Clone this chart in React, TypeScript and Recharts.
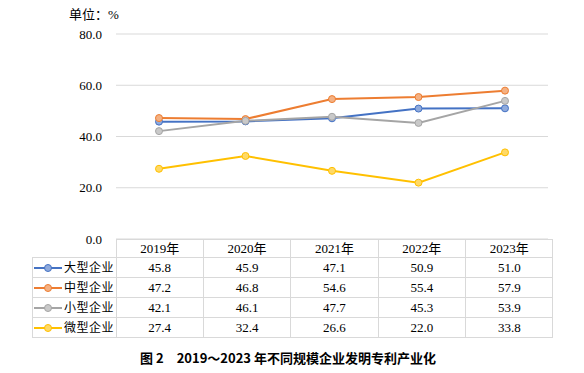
import { LineChart, Line, XAxis, YAxis, CartesianGrid } from "recharts";

const years = ["2019年", "2020年", "2021年", "2022年", "2023年"];
const large = [45.8, 45.9, 47.1, 50.9, 51.0];
const medium = [47.2, 46.8, 54.6, 55.4, 57.9];
const small = [42.1, 46.1, 47.7, 45.3, 53.9];
const micro = [27.4, 32.4, 26.6, 22.0, 33.8];
const yTicks = [0, 20, 40, 60, 80];

const series = [
  { key: "large", name: "大型企业", values: large, color: "#4472c4", dot: "#8faadc" },
  { key: "medium", name: "中型企业", values: medium, color: "#ed7d31", dot: "#f4b183" },
  { key: "small", name: "小型企业", values: small, color: "#a5a5a5", dot: "#c9c9c9" },
  { key: "micro", name: "微型企业", values: micro, color: "#ffc000", dot: "#ffd966" },
];

const data = years.map((y, i) => {
  const row: Record<string, string | number> = { year: y };
  series.forEach((s) => (row[s.key] = s.values[i]));
  return row;
});

const serif = "'Liberation Serif', 'Noto Sans CJK SC', serif";
const border = "1px solid #d9d9d9";
const colW = 86.4;

function LegendIcon({ color, dot }: { color: string; dot: string }) {
  return (
    <svg width={28} height={10} style={{ verticalAlign: "middle", marginRight: 2 }}>
      <line x1={0} y1={5} x2={28} y2={5} stroke={color} strokeWidth={2} />
      <circle cx={14} cy={5} r={3.5} fill={dot} stroke={color} strokeWidth={1} />
    </svg>
  );
}

export default function App() {
  return (
    <div
      style={{
        position: "absolute",
        left: 0,
        top: 0,
        width: 584,
        height: 373,
        background: "#fff",
        fontFamily: serif,
        color: "#000",
      }}
    >
      <div style={{ position: "absolute", left: 69, top: 4, fontSize: 13 }}>单位：%</div>

      <div style={{ position: "absolute", left: 0, top: 0 }}>
        <LineChart
          width={584}
          height={260}
          data={data}
          margin={{ top: 34, right: 36, bottom: 21, left: 0 }}
        >
          <CartesianGrid vertical={false} stroke="#d9d9d9" strokeWidth={1.2} />
          <XAxis dataKey="year" hide height={0} padding={{ left: 43, right: 43 }} />
          <YAxis
            width={116}
            domain={[0, 80]}
            ticks={yTicks}
            interval={0}
            tickFormatter={(v: number) => v.toFixed(1)}
            axisLine={false}
            tickLine={false}
            tickSize={0}
            tickMargin={14}
            tick={{ fill: "#000", fontSize: 13, fontFamily: serif }}
          />
          {series.map((s) => (
            <Line
              key={s.key}
              dataKey={s.key}
              name={s.name}
              stroke={s.color}
              strokeWidth={2}
              dot={{ r: 3.5, fill: s.dot, stroke: s.color, strokeWidth: 1 }}
              isAnimationActive={false}
            />
          ))}
        </LineChart>
      </div>

      <table
        style={{
          position: "absolute",
          left: 32,
          top: 239,
          borderCollapse: "collapse",
          tableLayout: "fixed",
          fontSize: 13,
          lineHeight: "16px",
          fontFamily: serif,
        }}
      >
        <tbody>
          <tr style={{ height: 18 }}>
            <td style={{ width: 83, padding: 0 }} />
            {years.map((y) => (
              <td key={y} style={{ width: colW, border, padding: 0, textAlign: "center" }}>
                {y}
              </td>
            ))}
          </tr>
          {series.map((s) => (
            <tr key={s.key} style={{ height: 20 }}>
              <td style={{ border, padding: "0 0 0 1px", whiteSpace: "nowrap", fontSize: 12 }}>
                <LegendIcon color={s.color} dot={s.dot} />
                <span style={{ verticalAlign: "middle", letterSpacing: 0.5 }}>{s.name}</span>
              </td>
              {s.values.map((v, i) => (
                <td key={i} style={{ border, padding: 0, textAlign: "center" }}>
                  {v.toFixed(1)}
                </td>
              ))}
            </tr>
          ))}
        </tbody>
      </table>

      <div
        style={{
          position: "absolute",
          left: 140,
          top: 348,
          fontSize: 13,
          fontWeight: "bold",
          fontFamily: "'Noto Sans CJK SC', sans-serif",
          whiteSpace: "pre",
        }}
      >
        图 2{"\u2003"}2019～2023 年不同规模企业发明专利产业化
      </div>
    </div>
  );
}
